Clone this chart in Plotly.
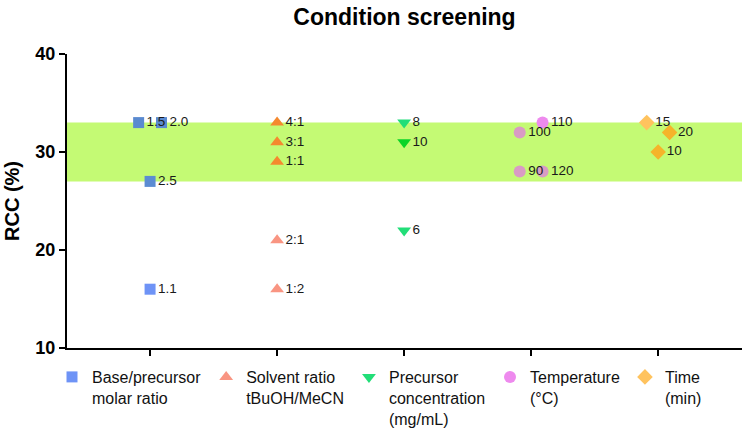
import plotly.graph_objects as go

# ---------------- data ----------------
categories = ["Base/precursor<br>molar ratio",
              "Solvent ratio<br>tBuOH/MeCN",
              "Precursor<br>concentration<br>(mg/mL)",
              "Temperature<br>(°C)",
              "Time<br>(min)"]

base_labels = ["1.1", "1.5", "2.0", "2.5"]
base_rcc = [16, 33, 33, 27]

solvent_labels = ["2:1", "4:1", "3:1", "1:1", "1:2"]
solvent_rcc = [21, 33, 31, 29, 16]

conc_labels = ["8", "10", "6"]
conc_rcc = [33, 31, 22]

temp_labels = ["110", "100", "90", "120"]
temp_rcc = [33, 32, 28, 28]

time_labels = ["15", "20", "10"]
time_rcc = [33, 32, 30]

band_low, band_high = 27, 33
y_ticks = [10, 20, 30, 40]

# ---------------- presentation (jitter / colours) ----------------
base_jit = [0, -0.09, 0.09, 0]
solvent_jit = [0, 0, 0, 0, 0]
conc_jit = [0, 0, 0]
temp_jit = [0.09, -0.09, -0.09, 0.09]
time_jit = [-0.09, 0.09, 0]

base_col = ["#6E93F6", "#5A8AD0", "#5A8AD0", "#5C8CD2"]
solvent_col = ["#F99582", "#F5892E", "#F5892E", "#F5892E", "#F99582"]
conc_col = ["#22DE78", "#0AD428", "#22DE78"]
temp_col = ["#EE8AEE", "#D99BC4", "#D99BC4", "#D99BC4"]
time_col = ["#FFC35E", "#F5B42A", "#F5B42A"]

series = [
    (base_labels, base_rcc, base_jit, base_col, "square", 11),
    (solvent_labels, solvent_rcc, solvent_jit, solvent_col, "triangle-up", 12),
    (conc_labels, conc_rcc, conc_jit, conc_col, "triangle-down", 12),
    (temp_labels, temp_rcc, temp_jit, temp_col, "circle", 12),
    (time_labels, time_rcc, time_jit, time_col, "diamond", 12),
]

FONT = "Liberation Sans, Arial, Helvetica, sans-serif"

fig = go.Figure()
for i, (labels, vals, jit, cols, sym, sz) in enumerate(series):
    fig.add_trace(go.Scatter(
        x=[i + j for j in jit],
        y=vals,
        mode="markers+text",
        text=labels,
        textposition="middle right",
        textfont=dict(size=13.5, color="#1a1a1a", family=FONT),
        marker=dict(symbol=sym, size=sz, color=cols, line=dict(width=0)),
        name=categories[i],
        cliponaxis=False,
    ))

fig.add_shape(type="rect", xref="x domain", yref="y",
              x0=0, x1=1, y0=band_low, y1=band_high,
              fillcolor="#C4FA74", line=dict(width=0), layer="below")

fig.update_layout(
    width=748, height=434,
    margin=dict(l=67, r=6, t=54, b=86, autoexpand=False),
    paper_bgcolor="white", plot_bgcolor="white",
    font=dict(family=FONT, color="black"),
    title=dict(text="<b>Condition screening</b>", font=dict(size=23, color="black"),
               x=0.5, xref="paper", xanchor="center",
               y=1 - 17 / 434, yref="container", yanchor="middle"),
    showlegend=True,
    legend=dict(orientation="h", x=52 / 748, xref="container", xanchor="left",
                y=1 - 360 / 434, yref="container", yanchor="top",
                font=dict(size=16, color="#111"), valign="top",
                bgcolor="rgba(0,0,0,0)", itemclick=False),
)

fig.update_xaxes(range=[-0.654, 4.66], tickvals=list(range(len(categories))),
                 ticktext=[""] * len(categories), ticks="outside", ticklen=6,
                 tickwidth=2, tickcolor="black", showline=True, linewidth=2,
                 linecolor="black", showgrid=False, zeroline=False)
fig.update_yaxes(range=[10, 40], tickvals=y_ticks, ticks="outside", ticklen=6,
                 tickwidth=2, tickcolor="black", showline=True, linewidth=2,
                 linecolor="black", showgrid=False, zeroline=False,
                 tickfont=dict(size=18, family=FONT, color="black", weight="bold"),
                 title=dict(text="<b>RCC (%)</b>", font=dict(size=20, color="black"),
                            standoff=10))

fig.write_html("out.html")
